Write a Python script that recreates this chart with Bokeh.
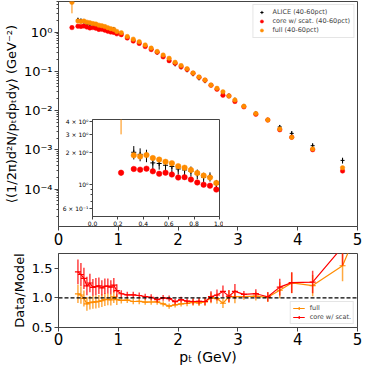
import numpy as np
from bokeh.plotting import figure
from bokeh.layouts import column
from bokeh.models import (Range1d, FixedTicker, CustomJSTickFormatter, Span, Legend,
                          LegendItem)
from bokeh.embed import file_html
from bokeh.resources import INLINE

# ---------------- data ----------------
pt_alice = [0.325, 0.375, 0.425, 0.475, 0.525, 0.575, 0.625, 0.675, 0.725, 0.775,
            0.825, 0.875, 0.925, 0.975, 1.05, 1.15, 1.25, 1.35, 1.45, 1.55,
            1.65, 1.75, 1.85, 1.95, 2.05, 2.15, 2.25, 2.35, 2.45, 2.55,
            2.65, 2.75, 2.85, 2.95, 3.1, 3.3, 3.5, 3.7, 3.9, 4.25, 4.75, 5.5]
alice_y = [2.03, 1.94, 1.89, 1.61, 1.59, 1.53, 1.49, 1.41, 1.38, 1.34,
           1.26, 1.18, 1.19, 1.01, 0.92, 0.74, 0.62, 0.536, 0.437, 0.363,
           0.298, 0.234, 0.185, 0.150, 0.126, 0.106, 0.084, 0.066, 0.056, 0.045,
           0.0366, 0.0273, 0.0242, 0.0190, 0.0132, 0.00865, 0.00586, 0.00384, 0.00263, 0.00128,
           0.00054, 0.00012]
alice_rel_err = [0.145, 0.14, 0.135, 0.13, 0.125, 0.12, 0.12, 0.115, 0.11, 0.11,
                 0.105, 0.10, 0.10, 0.095, 0.055, 0.05, 0.05, 0.05, 0.05, 0.05,
                 0.05, 0.05, 0.05, 0.05, 0.05, 0.05, 0.06, 0.06, 0.07, 0.09,
                 0.09, 0.09, 0.10, 0.11, 0.055, 0.07, 0.08, 0.12, 0.14, 0.15,
                 0.17, 0.20]

pt_model = [0.225, 0.325, 0.375, 0.425, 0.475, 0.525, 0.575, 0.625, 0.675, 0.725, 0.775,
            0.825, 0.875, 0.925, 0.975, 1.05, 1.15, 1.25, 1.35, 1.45, 1.55,
            1.65, 1.75, 1.85, 1.95, 2.05, 2.15, 2.25, 2.35, 2.45, 2.55,
            2.65, 2.75, 2.85, 2.95, 3.1, 3.3, 3.5, 3.7, 3.9, 4.25, 4.75, 5.5]
full_y = [5.7, 1.90, 1.85, 1.91, 1.79, 1.73, 1.65, 1.60, 1.50, 1.45, 1.38,
          1.29, 1.22, 1.17, 1.04, 0.96, 0.77, 0.66, 0.57, 0.47, 0.39,
          0.32, 0.26, 0.215, 0.17, 0.14, 0.117, 0.091, 0.072, 0.060, 0.045,
          0.037, 0.030, 0.0237, 0.0186, 0.0129, 0.0084, 0.0058, 0.0034, 0.0021, 0.00106,
          0.00035, 0.000036]
full_err = [2.7] + [0.0] * 42
core_y = [1.30, 1.41, 1.39, 1.42, 1.34, 1.27, 1.30, 1.25, 1.17, 1.18, 1.12,
          1.05, 1.00, 0.98, 0.90, 0.86, 0.705, 0.59, 0.515, 0.428, 0.359,
          0.307, 0.234, 0.187, 0.160, 0.130, 0.112, 0.0894, 0.0702, 0.0596, 0.0441,
          0.0349, 0.0246, 0.0235, 0.0171, 0.01245, 0.00808, 0.00575, 0.00325, 0.00209, 0.00101,
          0.00029, 0.00004]
core_err = [0.08] + [0.0] * 42

main_y_ticks = [1e-4, 1e-3, 1e-2, 1e-1, 1.0]
main_y_labels = ["10⁻⁴", "10⁻³", "10⁻²", "10⁻¹", "10⁰"]
x_ticks = [0, 1, 2, 3, 4, 5]
x_labels = ["0", "1", "2", "3", "4", "5"]
ratio_y_ticks = [0.5, 1.0, 1.5]
ratio_y_labels = ["0.5", "1.0", "1.5"]
inset_x_ticks = [0.0, 0.2, 0.4, 0.6, 0.8, 1.0]
inset_x_labels = ["0.0", "0.2", "0.4", "0.6", "0.8", "1.0"]
inset_y_ticks = [0.6, 1.0, 2.0, 3.0, 4.0]
inset_y_labels = ["6 × 10⁻¹", "10⁰", "2 × 10⁰", "3 × 10⁰", "4 × 10⁰"]

# ---------------- derived ----------------
pa = np.array(pt_alice)
ay = np.array(alice_y)
ae = ay * np.array(alice_rel_err)
pm = np.array(pt_model)
fy = np.array(full_y)
cy = np.array(core_y)
fe = np.array(full_err)
ce = np.array(core_err)
ratio_full = ay / fy[1:]
ratio_core = ay / cy[1:]
rf_err = ratio_full * np.array(alice_rel_err)
rc_err = ratio_core * np.array(alice_rel_err)

RED = "red"
ORANGE = "darkorange"
FONT = "DejaVu Sans"
SPINE = "#444444"


def fmt(ticks, labels):
    return CustomJSTickFormatter(args=dict(t=ticks, l=labels), code="""
        for (let i = 0; i < t.length; i++) {
            if (Math.abs(t[i] - tick) <= 1e-9 * Math.max(1, Math.abs(t[i]))) return l[i];
        }
        return "";
    """)


def style(fig, xfs, yfs, tick=4, minor=2):
    fig.xgrid.visible = False
    fig.ygrid.visible = False
    fig.outline_line_color = SPINE
    fig.outline_line_width = 1
    fig.outline_line_alpha = 1
    for ax in (fig.xaxis[0], fig.yaxis[0]):
        ax.axis_line_color = SPINE
        ax.major_tick_line_color = SPINE
        ax.minor_tick_line_color = SPINE
        ax.major_tick_in = 0
        ax.major_tick_out = tick
        ax.minor_tick_in = 0
        ax.minor_tick_out = minor
        ax.major_label_text_font = FONT
        ax.major_label_text_color = "black"
        ax.axis_label_text_font = FONT
        ax.axis_label_text_font_style = "normal"
        ax.axis_label_text_color = "black"
        ax.major_label_standoff = 2
        ax.axis_label_standoff = 2
    fig.xaxis[0].major_label_text_font_size = xfs
    fig.yaxis[0].major_label_text_font_size = yfs


# ---------------- main panel ----------------
p = figure(width=366, height=252, x_range=Range1d(0, 5), y_range=Range1d(1.12e-5, 6.0),
           y_axis_type="log", output_backend="svg", toolbar_location=None,
           min_border_left=51, min_border_right=9, min_border_top=1, min_border_bottom=26)
style(p, "15px", "13px")
p.xaxis[0].ticker = FixedTicker(ticks=x_ticks, minor_ticks=[])
p.xaxis[0].formatter = fmt(x_ticks, x_labels)
minor = [m * 10.0 ** e for e in range(-5, 1) for m in range(2, 10)]
p.yaxis[0].ticker = FixedTicker(ticks=main_y_ticks, minor_ticks=minor)
p.yaxis[0].formatter = fmt(main_y_ticks, main_y_labels)
p.yaxis[0].axis_label = "⟨(1/2π)d²N/pₜdpₜdy⟩ (GeV⁻²)"
p.yaxis[0].axis_label_text_font_size = "13px"

p.segment(pa, ay - ae, pa, ay + ae, line_color="black", line_width=1)
r_alice = p.scatter(pa, ay, marker="cross", size=4, line_color="black", line_width=1)
p.segment(pm, cy - ce, pm, cy + ce, line_color=RED, line_width=1)
r_core = p.scatter(pm, cy, marker="circle", size=4.5, fill_color=RED, line_color=RED,
                   line_width=0.5)
p.segment(pm, np.maximum(fy - fe, 1e-9), pm, fy + fe, line_color=ORANGE, line_width=1)
r_full = p.scatter(pm, fy, marker="circle", size=4.5, fill_color=ORANGE, line_color=ORANGE,
                   line_width=0.5)

leg = Legend(items=[LegendItem(label="ALICE (40-60pct)", renderers=[r_alice]),
                    LegendItem(label="core w/ scat. (40-60pct)", renderers=[r_core]),
                    LegendItem(label="full (40-60pct)", renderers=[r_full])],
             location="top_right", margin=3, padding=3, spacing=1,
             glyph_height=8, glyph_width=10, label_height=8, label_standoff=6,
             label_text_font_size="6.5px", label_text_font=FONT,
             border_line_color="#cccccc", background_fill_alpha=0.8)
p.add_layout(leg)

# ---------------- ratio panel ----------------
r = figure(width=366, height=115, x_range=Range1d(0, 5), y_range=Range1d(0.5, 1.75),
           output_backend="svg", toolbar_location=None,
           min_border_left=51, min_border_right=9, min_border_top=1, min_border_bottom=38)
style(r, "15px", "13px")
r.xaxis[0].ticker = FixedTicker(ticks=x_ticks, minor_ticks=[])
r.xaxis[0].formatter = fmt(x_ticks, x_labels)
r.yaxis[0].ticker = FixedTicker(ticks=ratio_y_ticks, minor_ticks=[])
r.yaxis[0].formatter = fmt(ratio_y_ticks, ratio_y_labels)
r.yaxis[0].axis_label = "Data/Model"
r.yaxis[0].axis_label_text_font_size = "13px"
r.xaxis[0].axis_label = "pₜ (GeV)"
r.xaxis[0].axis_label_text_font_size = "14px"
r.xaxis[0].axis_label_standoff = 1
r.xaxis[0].major_label_standoff = 1

r.add_layout(Span(location=1.0, dimension="width", line_color="black",
                  line_dash="4 2", line_width=1.2))
r.segment(pa, ratio_full - rf_err, pa, ratio_full + rf_err, line_color=ORANGE,
          line_width=1.5, line_alpha=0.75)
lf = r.line(pa, ratio_full, line_color=ORANGE, line_width=1.2)
sf = r.scatter(pa, ratio_full, marker="dash", size=6, line_color=ORANGE, line_width=1.2)
r.segment(pa, ratio_core - rc_err, pa, ratio_core + rc_err, line_color=RED,
          line_width=1.5, line_alpha=0.75)
lc = r.line(pa, ratio_core, line_color=RED, line_width=1.2)
sc = r.scatter(pa, ratio_core, marker="dash", size=6, line_color=RED, line_width=1.2)

gf = r.scatter([-10], [1], marker="cross", size=8, line_color=ORANGE, line_width=1.2)
gc = r.scatter([-10], [1], marker="cross", size=8, line_color=RED, line_width=1.2)
leg2 = Legend(items=[LegendItem(label="full", renderers=[lf, gf]),
                     LegendItem(label="core w/ scat.", renderers=[lc, gc])],
              location="bottom_right", margin=3, padding=2, spacing=1,
              glyph_height=8, glyph_width=12, label_height=8, label_standoff=5,
              label_text_font_size="6.5px", label_text_font=FONT,
              border_line_color="#cccccc", background_fill_alpha=0.8)
r.add_layout(leg2)

# ---------------- inset (separate root, positioned over the main panel) ----------------
ins = figure(width=167, height=115, x_range=Range1d(0, 1.0), y_range=Range1d(0.5, 4.15),
             y_axis_type="log", output_backend="svg", toolbar_location=None,
             min_border_left=36, min_border_right=4, min_border_top=4, min_border_bottom=14,
             border_fill_alpha=0, background_fill_color="white")
style(ins, "6px", "6px", tick=3, minor=2)
ins.xaxis[0].ticker = FixedTicker(ticks=inset_x_ticks, minor_ticks=[])
ins.xaxis[0].formatter = fmt(inset_x_ticks, inset_x_labels)
ins.yaxis[0].ticker = FixedTicker(ticks=inset_y_ticks, minor_ticks=[0.7, 0.8, 0.9])
ins.yaxis[0].formatter = fmt(inset_y_ticks, inset_y_labels)
ins.xaxis[0].major_label_standoff = 1
ins.yaxis[0].major_label_standoff = 1
ins.segment(pa, ay - ae, pa, ay + ae, line_color="black", line_width=1)
ins.scatter(pa, ay, marker="cross", size=5, line_color="black", line_width=1)
ins.segment(pm, cy - ce, pm, cy + ce, line_color=RED, line_width=1)
ins.scatter(pm, cy, marker="circle", size=5.5, fill_color=RED, line_color=RED, line_width=0.5)
ins.segment(pm, np.maximum(fy - fe, 1e-9), pm, fy + fe, line_color=ORANGE, line_width=1)
ins.scatter(pm, fy, marker="circle", size=5.5, fill_color=ORANGE, line_color=ORANGE,
            line_width=0.5)
ins.styles = {"position": "absolute", "left": "56px", "top": "115px"}

layout = column(p, r, spacing=0)

open("out.html", "w").write(file_html([layout, ins], INLINE))
